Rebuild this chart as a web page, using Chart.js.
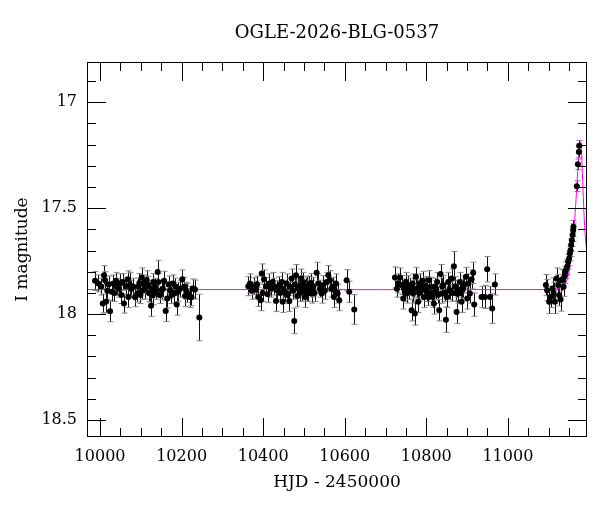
<!DOCTYPE html>
<html>
<head>
<meta charset="utf-8">
<script src="https://cdn.jsdelivr.net/npm/chart.js@4.4.1/dist/chart.umd.min.js"></script>
<style>
  html, body { margin: 0; padding: 0; background: #fff; }
</style>
</head>
<body>
<canvas id="myChart" width="600" height="512"></canvas>
<script>
// photometry: HJD - 2450000, I mag, error
const hjd = [
  9987.7, 9995.8, 10003, 10006.6, 10009.8, 10012.3, 10014.7, 10018, 10021, 10024.5,
  10028.7, 10032.6, 10035, 10039.2, 10042.4, 10046, 10049, 10052, 10055.6, 10058.8,
  10063.7, 10067.9, 10069.4, 10073.5, 10077, 10081.6, 10086, 10091.4, 10094, 10096.3,
  10099, 10102.2, 10104, 10106.1, 10110.3, 10112, 10114.5, 10118.4, 10120, 10122.5,
  10125, 10127, 10129.2, 10130.6, 10134.8, 10137, 10141.4, 10142.9, 10146, 10151.2,
  10154, 10156.9, 10161, 10164.9, 10168, 10171.6, 10175, 10178.2, 10182.1, 10185,
  10188, 10191.9, 10196, 10201.7, 10205.9, 10208.3, 10211, 10214, 10220.6, 10224,
  10227.2, 10232.8, 10243.4,
  10363.5, 10367.7, 10372, 10377.5, 10382.4, 10385, 10388, 10393.9, 10396.3, 10399,
  10402, 10406.9, 10411, 10415, 10419, 10423.3, 10427, 10431.4, 10434.6, 10439.5,
  10442, 10445.4, 10447.8, 10450, 10453.4, 10457.6, 10460, 10464, 10465.7, 10469.9,
  10473, 10476.2, 10478, 10480.4, 10483.6, 10486, 10488.5, 10490, 10492.7, 10494.4,
  10496, 10498.3, 10500, 10502.5, 10504, 10506.6, 10508, 10510.5, 10513, 10516.4,
  10518.9, 10520, 10522.8, 10526, 10531.1, 10535, 10539, 10543.4, 10547.3, 10551,
  10555.6, 10559.6, 10563.7, 10567, 10570.3, 10573.5, 10576, 10578.4, 10582.6, 10586.5,
  10604.6, 10611, 10623.3,
  10723, 10728, 10731.1, 10735.3, 10739.5, 10743.4, 10745.1, 10748, 10750, 10751.7,
  10755.6, 10758, 10761, 10764, 10766.4, 10767.9, 10770, 10772, 10774.5, 10777.7,
  10780.1, 10782, 10784.3, 10786, 10788.5, 10790.9, 10794.1, 10796, 10799, 10802.2,
  10805, 10807.1, 10810.5, 10813, 10815.4, 10818.6, 10821, 10823.5, 10826.7, 10829,
  10831.6, 10835, 10837.5, 10839, 10841.4, 10845, 10848, 10849.7, 10853.6, 10855,
  10857.8, 10861.9, 10864, 10867.6, 10870, 10872, 10874.2, 10876, 10878.1, 10882.4,
  10884, 10886.5, 10890.4, 10893, 10897.1, 10900.3, 10902.7, 10906.9, 10911, 10915,
  10917.4, 10935.5, 10943.6, 10949.2, 10955.9, 10961.5, 10968.1,
  11093.1, 11096.3, 11101.2, 11104.7, 11109.5, 11112, 11115.2, 11119.4, 11123.3, 11125.7,
  11129.2, 11131.6, 11135.5, 11136.5, 11139.7, 11142.2, 11145.3, 11147.8, 11150.2, 11152,
  11153.6, 11155.1, 11156.9, 11158.6, 11160.1, 11160.8, 11169.1, 11171.6, 11174, 11174.8
];
const mag = [
  17.843, 17.855, 17.870, 17.950, 17.816, 17.840, 17.942, 17.890, 17.860, 17.986,
  17.895, 17.855, 17.900, 17.843, 17.871, 17.880, 17.855, 17.910, 17.848, 17.950,
  17.868, 17.836, 17.919, 17.863, 17.880, 17.871, 17.920, 17.903, 17.870, 17.853,
  17.910, 17.827, 17.890, 17.855, 17.879, 17.860, 17.840, 17.863, 17.900, 17.903,
  17.961, 17.880, 17.911, 17.848, 17.871, 17.890, 17.801, 17.848, 17.910, 17.887,
  17.880, 17.843, 17.985, 17.926, 17.860, 17.887, 17.910, 17.855, 17.903, 17.870,
  17.955, 17.895, 17.880, 17.836, 17.871, 17.915, 17.890, 17.900, 17.919, 17.920,
  17.879, 17.884, 18.016,
  17.868, 17.855, 17.890, 17.868, 17.884, 17.860, 17.919, 17.934, 17.808, 17.900,
  17.836, 17.868, 17.906, 17.855, 17.880, 17.848, 17.870, 17.938, 17.887, 17.863,
  17.900, 17.848, 17.942, 17.880, 17.895, 17.855, 17.910, 17.938, 17.871, 17.832,
  17.890, 18.032, 17.860, 17.816, 17.915, 17.880, 17.871, 17.900, 17.832, 17.895,
  17.860, 17.848, 17.880, 17.919, 17.870, 17.868, 17.900, 17.895, 17.860, 17.853,
  17.903, 17.880, 17.871, 17.900, 17.805, 17.855, 17.880, 17.903, 17.863, 17.890,
  17.848, 17.816, 17.840, 17.880, 17.871, 17.919, 17.890, 17.855, 17.903, 17.934,
  17.840, 17.895, 17.978,
  17.827, 17.880, 17.855, 17.827, 17.863, 17.926, 17.879, 17.900, 17.848, 17.903,
  17.863, 17.890, 17.870, 17.982, 17.855, 17.903, 17.880, 17.997, 17.824, 17.879,
  17.942, 17.900, 17.855, 17.880, 17.887, 17.843, 17.919, 17.870, 17.868, 17.895,
  17.920, 17.840, 17.871, 17.900, 17.919, 17.950, 17.870, 17.887, 17.848, 17.910,
  17.982, 17.811, 17.903, 17.870, 17.863, 17.900, 18.026, 17.919, 17.848, 17.890,
  17.887, 17.832, 17.900, 17.774, 17.868, 17.900, 17.990, 17.880, 17.903, 17.848,
  17.900, 17.942, 17.879, 17.860, 17.824, 17.926, 17.855, 17.903, 17.836, 17.805,
  17.955, 17.919, 17.919, 17.788, 17.919, 17.974, 17.860,
  17.863, 17.887, 17.942, 17.919, 17.879, 17.900, 17.942, 17.832, 17.863, 17.911,
  17.931, 17.840, 17.832, 17.871, 17.816, 17.793, 17.777, 17.753, 17.737, 17.714,
  17.698, 17.674, 17.651, 17.627, 17.604, 17.588, 17.396, 17.293, 17.235, 17.205
];
const err = [
  0.045, 0.04, 0.04, 0.045, 0.045, 0.04, 0.05, 0.04, 0.04, 0.05,
  0.045, 0.04, 0.04, 0.04, 0.04, 0.04, 0.045, 0.04, 0.04, 0.045,
  0.04, 0.04, 0.05, 0.06, 0.04, 0.04, 0.045, 0.04, 0.04, 0.045,
  0.04, 0.045, 0.04, 0.04, 0.05, 0.04, 0.045, 0.04, 0.04, 0.04,
  0.05, 0.04, 0.045, 0.04, 0.04, 0.04, 0.055, 0.04, 0.04, 0.045,
  0.04, 0.045, 0.05, 0.045, 0.04, 0.04, 0.04, 0.04, 0.045, 0.04,
  0.05, 0.045, 0.04, 0.045, 0.045, 0.05, 0.04, 0.045, 0.05, 0.04,
  0.045, 0.045, 0.11,
  0.045, 0.045, 0.04, 0.04, 0.04, 0.04, 0.045, 0.05, 0.045, 0.04,
  0.045, 0.04, 0.04, 0.045, 0.04, 0.045, 0.04, 0.05, 0.045, 0.04,
  0.04, 0.045, 0.05, 0.04, 0.045, 0.045, 0.04, 0.05, 0.04, 0.045,
  0.04, 0.06, 0.04, 0.05, 0.05, 0.04, 0.045, 0.04, 0.045, 0.045,
  0.04, 0.045, 0.04, 0.05, 0.04, 0.045, 0.04, 0.045, 0.04, 0.045,
  0.045, 0.04, 0.045, 0.04, 0.05, 0.045, 0.04, 0.045, 0.045, 0.04,
  0.045, 0.045, 0.045, 0.04, 0.045, 0.05, 0.04, 0.045, 0.045, 0.05,
  0.05, 0.05, 0.07,
  0.05, 0.04, 0.045, 0.045, 0.045, 0.05, 0.045, 0.04, 0.045, 0.045,
  0.045, 0.04, 0.04, 0.05, 0.045, 0.045, 0.04, 0.055, 0.045, 0.045,
  0.05, 0.04, 0.045, 0.04, 0.045, 0.045, 0.05, 0.04, 0.045, 0.045,
  0.04, 0.045, 0.045, 0.04, 0.05, 0.05, 0.04, 0.045, 0.045, 0.04,
  0.05, 0.045, 0.045, 0.04, 0.045, 0.04, 0.06, 0.05, 0.045, 0.04,
  0.045, 0.045, 0.04, 0.07, 0.045, 0.04, 0.055, 0.04, 0.045, 0.045,
  0.04, 0.05, 0.045, 0.04, 0.045, 0.05, 0.045, 0.045, 0.045, 0.05,
  0.055, 0.05, 0.055, 0.06, 0.05, 0.07, 0.05,
  0.05, 0.05, 0.055, 0.05, 0.05, 0.05, 0.055, 0.05, 0.05, 0.05,
  0.055, 0.05, 0.045, 0.045, 0.04, 0.04, 0.035, 0.035, 0.035, 0.035,
  0.03, 0.03, 0.03, 0.03, 0.03, 0.03, 0.025, 0.025, 0.025, 0.025
];

// model curve (magenta)
const modelHjd = [9968, 11100, 11120, 11135, 11144, 11150, 11155, 11160, 11164, 11168,
  11171, 11174, 11176, 11178, 11180, 11182, 11185, 11188, 11191, 11194];
const modelMag = [17.884, 17.884, 17.880, 17.870, 17.845, 17.800, 17.735, 17.640, 17.550, 17.430,
  17.330, 17.240, 17.200, 17.186, 17.210, 17.300, 17.450, 17.580, 17.660, 17.710];

const xTicks = [10000, 10200, 10400, 10600, 10800, 11000];
const yTicks = [17, 17.5, 18, 18.5];
const xMinorStep = 50;
const yMinorStep = 0.1;

const serif = 'DejaVu Serif';

const errorBars = {
  id: 'errorBars',
  beforeDatasetsDraw(chart) {
    const {ctx, scales: {x, y}} = chart;
    ctx.save();
    ctx.lineWidth = 1;
    for (let i = 0; i < hjd.length; i++) {
      const px = Math.round(x.getPixelForValue(hjd[i])) + 0.5;
      const y1 = y.getPixelForValue(mag[i] - err[i]);
      const y2 = y.getPixelForValue(mag[i] + err[i]);
      ctx.strokeStyle = '#111';
      ctx.beginPath();
      ctx.moveTo(px, y1); ctx.lineTo(px, y2);
      ctx.stroke();
      ctx.strokeStyle = '#888';
      ctx.beginPath();
      ctx.moveTo(px - 3, y1); ctx.lineTo(px + 3, y1);
      ctx.moveTo(px - 3, y2); ctx.lineTo(px + 3, y2);
      ctx.stroke();
    }
    ctx.restore();
  }
};

const frame = {
  id: 'frame',
  afterDatasetsDraw(chart) {
    const {ctx, chartArea: a, scales: {x, y}} = chart;
    ctx.save();
    ctx.strokeStyle = '#000';
    ctx.lineWidth = 1;
    ctx.strokeRect(a.left + 0.5, a.top + 0.5, a.right - a.left - 1, a.bottom - a.top - 1);
    ctx.beginPath();
    for (let k = Math.ceil(x.min / xMinorStep); k * xMinorStep <= x.max; k++) {
      const v = k * xMinorStep;
      const px = Math.round(x.getPixelForValue(v)) + 0.5;
      const len = xTicks.includes(v) ? 19 : 9;
      ctx.moveTo(px, a.bottom); ctx.lineTo(px, a.bottom - len);
      ctx.moveTo(px, a.top); ctx.lineTo(px, a.top + len);
    }
    for (let k = Math.ceil(y.min / yMinorStep); k * yMinorStep <= y.max; k++) {
      const v = Math.round(k * yMinorStep * 10) / 10;
      const py = Math.round(y.getPixelForValue(v)) + 0.5;
      const len = yTicks.includes(v) ? 19 : 9;
      ctx.moveTo(a.left, py); ctx.lineTo(a.left + len, py);
      ctx.moveTo(a.right, py); ctx.lineTo(a.right - len, py);
    }
    ctx.stroke();
    ctx.restore();
  }
};

const points = hjd.map((t, i) => ({ x: t, y: mag[i] }));
const model = modelHjd.map((t, i) => ({ x: t, y: modelMag[i] }));

new Chart(document.getElementById('myChart'), {
  type: 'scatter',
  data: {
    datasets: [{
      data: points,
      backgroundColor: '#000',
      borderColor: '#000',
      pointRadius: 3,
      borderWidth: 0
    }, {
      data: model,
      showLine: true,
      borderColor: '#ff00ff',
      borderWidth: 1,
      pointRadius: 0,
      tension: 0.3
    }]
  },
  options: {
    responsive: false,
    animation: false,
    layout: { padding: { left: 0, right: 13, top: 0, bottom: 0 } },
    plugins: {
      legend: { display: false },
      tooltip: { enabled: false },
      title: {
        display: true,
        text: 'OGLE-2026-BLG-0537',
        fullSize: false,
        color: '#000',
        font: { family: serif, size: 18, weight: 'normal' },
        padding: { top: 23, bottom: 17.4 }
      }
    },
    scales: {
      x: {
        type: 'linear',
        min: 9968,
        max: 11194,
        grid: { display: false, drawTicks: false },
        border: { display: false },
        afterBuildTicks: s => { s.ticks = xTicks.map(v => ({ value: v })); },
        afterFit: s => { s.height = 75; },
        ticks: {
          padding: 10,
          color: '#000',
          maxRotation: 0,
          font: { family: serif, size: 16 },
          callback: v => String(v)
        },
        title: {
          display: true,
          text: 'HJD - 2450000',
          color: '#000',
          font: { family: serif, size: 17 },
          padding: { top: 0, bottom: 19 }
        }
      },
      y: {
        type: 'linear',
        reverse: true,
        min: 16.81,
        max: 18.58,
        grid: { display: false, drawTicks: false },
        border: { display: false },
        afterBuildTicks: s => { s.ticks = yTicks.map(v => ({ value: v })); },
        afterFit: s => { s.width = 87; },
        ticks: {
          padding: 10,
          color: '#000',
          font: { family: serif, size: 16 },
          callback: v => String(v)
        },
        title: {
          display: true,
          text: 'I magnitude',
          color: '#000',
          font: { family: serif, size: 17 },
          padding: { top: 12, bottom: 0 }
        }
      }
    }
  },
  plugins: [errorBars, frame]
});
</script>
</body>
</html>
